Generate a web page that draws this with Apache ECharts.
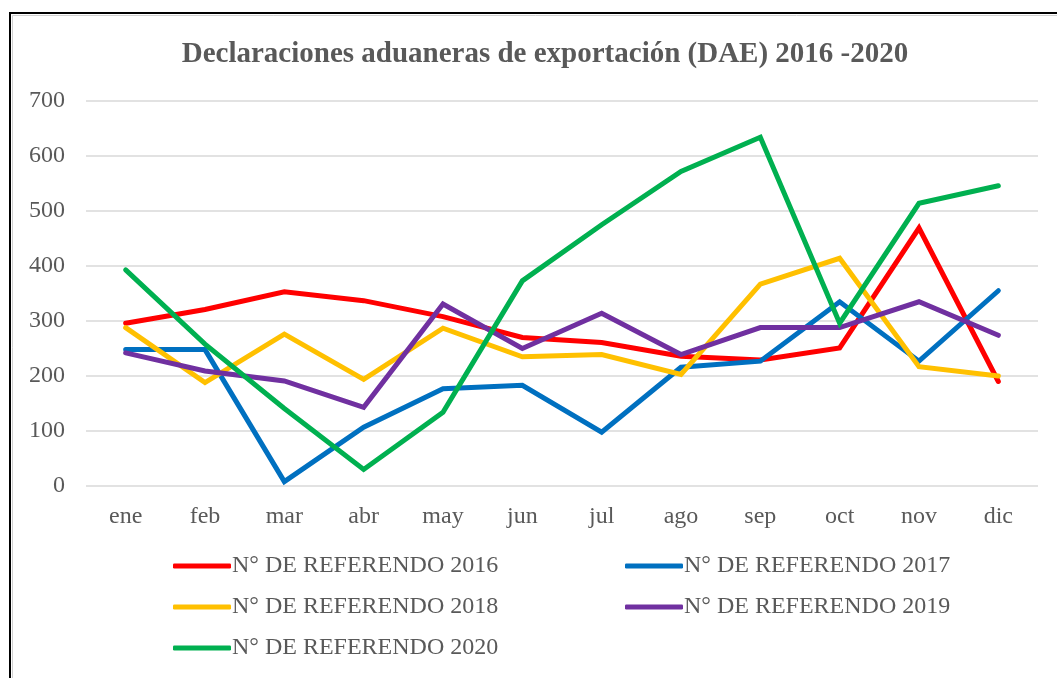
<!DOCTYPE html>
<html>
<head>
<meta charset="utf-8">
<script src="https://cdn.jsdelivr.net/npm/echarts@6/dist/echarts.min.js"></script>
<style>
html,body{margin:0;padding:0;background:#fff;}
#chart{width:1057px;height:678px;}
</style>
</head>
<body>
<div id="chart"></div>
<script>
const titleText = 'Declaraciones aduaneras de exportación (DAE) 2016 -2020';
const months = ['ene','feb','mar','abr','may','jun','jul','ago','sep','oct','nov','dic'];
const names = ['N° DE REFERENDO 2016','N° DE REFERENDO 2017','N° DE REFERENDO 2018','N° DE REFERENDO 2019','N° DE REFERENDO 2020'];
const ref2016 = [296, 321, 353, 337, 308, 270, 261, 236, 229, 251, 469, 190];
const ref2017 = [248, 248, 8, 107, 177, 183, 98, 216, 227, 335, 227, 355];
const ref2018 = [288, 188, 276, 194, 287, 235, 239, 203, 367, 414, 217, 200];
const ref2019 = [242, 209, 191, 143, 331, 250, 314, 239, 288, 288, 335, 274];
const ref2020 = [393, 258, 141, 30, 134, 373, 475, 572, 634, 296, 514, 546];
const colors = ['#FF0000','#0070C0','#FFC000','#7030A0','#00B050'];
const seriesData = [ref2016, ref2017, ref2018, ref2019, ref2020];

const font = '"Liberation Serif", "Times New Roman", serif';
const chart = echarts.init(document.getElementById('chart'), null, {renderer:'canvas'});
const legendCommon = {
  orient: 'vertical',
  itemWidth: 58,
  itemHeight: 5,
  itemGap: 17,
  icon: 'roundRect',
  textStyle: {fontFamily: font, fontSize: 24, color: '#595959', padding: [0,0,0,-4]}
};
chart.setOption({
  animation: false,
  backgroundColor: '#fff',
  color: colors,
  graphic: [
    {type:'rect', shape:{x:10, y:13, width:1100, height:700}, style:{fill:'none', stroke:'#000', lineWidth:2}},
    {type:'rect', shape:{x:12.5, y:15.5, width:1100, height:700}, style:{fill:'none', stroke:'#d0d0d0', lineWidth:1}}
  ],
  title: {
    text: titleText,
    left: 540, top: 35, textAlign: 'center',
    textStyle: {fontFamily: font, fontSize: 29, fontWeight: 'bold', color: '#595959'}
  },
  legend: [
    Object.assign({left: 168, top: 549, data: [names[0], names[2], names[4]]}, legendCommon),
    Object.assign({left: 620, top: 549, data: [names[1], names[3]]}, legendCommon)
  ],
  grid: {left: 86, right: 19, top: 101, bottom: 192, containLabel: false},
  xAxis: {
    type: 'category', data: months, boundaryGap: true,
    axisLine: {show: false}, axisTick: {show: false},
    axisLabel: {fontFamily: font, fontSize: 24, color: '#595959', margin: 19}
  },
  yAxis: {
    type: 'value', min: 0, max: 700, interval: 100,
    axisLine: {show: false}, axisTick: {show: false},
    axisLabel: {fontFamily: font, fontSize: 24, color: '#595959', margin: 21},
    splitLine: {lineStyle: {color: '#d9d9d9', width: 1.5}}
  },
  series: names.map((n, i) => ({
    name: n, type: 'line', data: seriesData[i],
    symbol: 'none', lineStyle: {width: 5, color: colors[i], cap: 'round', join: 'miter'},
    itemStyle: {color: colors[i]}
  }))
});
</script>
</body>
</html>
